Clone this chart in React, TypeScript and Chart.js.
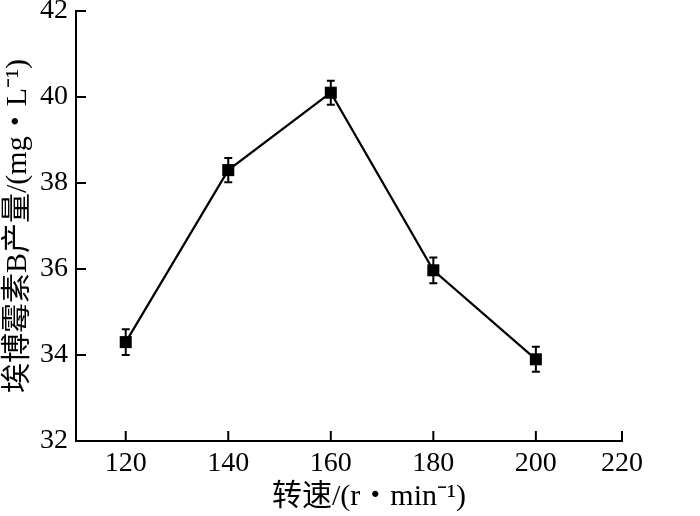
import React, { useEffect, useRef } from "react";
import { Chart, registerables } from "chart.js";

Chart.register(...registerables);

const speeds = [120, 140, 160, 180, 200];
const yieldValues = [34.3, 38.3, 40.1, 35.97, 33.9];
const errorValues = [0.3, 0.28, 0.28, 0.3, 0.29];
const xTickValues = [120, 140, 160, 180, 200, 216.8];
const xTickLabels = ["120", "140", "160", "180", "200", "220"];
const yTickValues = [32, 34, 36, 38, 40, 42];
const xTitle = "转速/(r・min⁻¹)";
const yTitle = "埃博霉素B产量/(mg・L⁻¹)";

const FONT = "'Liberation Serif', 'Times New Roman', 'Noto Sans CJK SC', serif";

const errorBarPlugin = {
  id: "errorBars",
  afterDatasetsDraw(chart: any) {
    const ctx = chart.ctx;
    const xs = chart.scales.x;
    const ys = chart.scales.y;
    ctx.save();
    ctx.strokeStyle = "#000";
    ctx.lineWidth = 2;
    speeds.forEach((s, i) => {
      const x = xs.getPixelForValue(s);
      const yTop = ys.getPixelForValue(yieldValues[i] + errorValues[i]);
      const yBot = ys.getPixelForValue(yieldValues[i] - errorValues[i]);
      ctx.beginPath();
      ctx.moveTo(x, yTop);
      ctx.lineTo(x, yBot);
      ctx.moveTo(x - 4, yTop);
      ctx.lineTo(x + 4, yTop);
      ctx.moveTo(x - 4, yBot);
      ctx.lineTo(x + 4, yBot);
      ctx.stroke();
    });
    ctx.restore();
  },
};

const innerTicksPlugin = {
  id: "innerTicks",
  afterDraw(chart: any) {
    const ctx = chart.ctx;
    const xs = chart.scales.x;
    const ys = chart.scales.y;
    const area = chart.chartArea;
    ctx.save();
    ctx.strokeStyle = "#000";
    ctx.lineWidth = 2;
    ctx.beginPath();
    xs.ticks.forEach((t: any) => {
      const x = xs.getPixelForValue(t.value);
      ctx.moveTo(x, area.bottom);
      ctx.lineTo(x, area.bottom - 10);
    });
    ys.ticks.forEach((t: any) => {
      const y = ys.getPixelForValue(t.value);
      ctx.moveTo(area.left, y);
      ctx.lineTo(area.left + 10, y);
    });
    ctx.stroke();
    // x-axis title (slightly right of centre, as in the original figure)
    ctx.fillStyle = "#000";
    ctx.font = `30px ${FONT}`;
    ctx.textAlign = "center";
    ctx.textBaseline = "middle";
    ctx.fillText(xTitle, (xs.left + xs.right) / 2 + 20, xs.bottom - 19);
    ctx.restore();
  },
};

export default function App() {
  const ref = useRef<HTMLCanvasElement | null>(null);
  useEffect(() => {
    if (!ref.current) return;
    const chart = new Chart(ref.current, {
      type: "line",
      data: {
        datasets: [
          {
            data: speeds.map((s, i) => ({ x: s, y: yieldValues[i] })),
            borderColor: "#000",
            backgroundColor: "#000",
            borderWidth: 2.2,
            pointStyle: "rect",
            pointRadius: 8.5,
            pointBorderWidth: 0,
            pointBackgroundColor: "#000",
            tension: 0,
          },
        ],
      },
      options: {
        animation: false,
        responsive: true,
        maintainAspectRatio: false,
        layout: { padding: { top: 11, right: 78, left: 0, bottom: 0 } },
        plugins: { legend: { display: false }, tooltip: { enabled: false } },
        scales: {
          x: {
            type: "linear",
            min: 110.3,
            max: 216.8,
            grid: { display: false, drawTicks: false },
            border: { display: true, color: "#000", width: 2 },
            afterBuildTicks: (scale: any) => {
              scale.ticks = xTickValues.map((v) => ({ value: v }));
            },
            afterFit: (scale: any) => {
              scale.height = 75;
              scale.paddingLeft = 0;
              scale.paddingRight = 0;
            },
            ticks: {
              color: "#000",
              font: { family: FONT, size: 28 },
              padding: 6,
              maxRotation: 0,
              autoSkip: false,
              callback: (v: any) => {
                const i = xTickValues.indexOf(Number(v));
                return i >= 0 ? xTickLabels[i] : "";
              },
            },
            title: { display: false },
          },
          y: {
            type: "linear",
            min: 32,
            max: 42,
            grid: { display: false, drawTicks: false },
            border: { display: true, color: "#000", width: 2 },
            afterBuildTicks: (scale: any) => {
              scale.ticks = yTickValues.map((v) => ({ value: v }));
            },
            afterFit: (scale: any) => {
              scale.width = 76;
              scale.paddingTop = 0;
              scale.paddingBottom = 0;
            },
            ticks: {
              color: "#000",
              font: { family: FONT, size: 28 },
              padding: 8,
            },
            title: {
              display: true,
              text: yTitle,
              color: "#000",
              font: { family: FONT, size: 30 },
              padding: { top: 0, bottom: 0 },
            },
          },
        },
      },
      plugins: [errorBarPlugin, innerTicksPlugin],
    });
    return () => chart.destroy();
  }, []);
  return (
    <div style={{ position: "fixed", left: 0, top: 0, width: 700, height: 516, background: "#fff" }}>
      <canvas ref={ref} />
    </div>
  );
}
